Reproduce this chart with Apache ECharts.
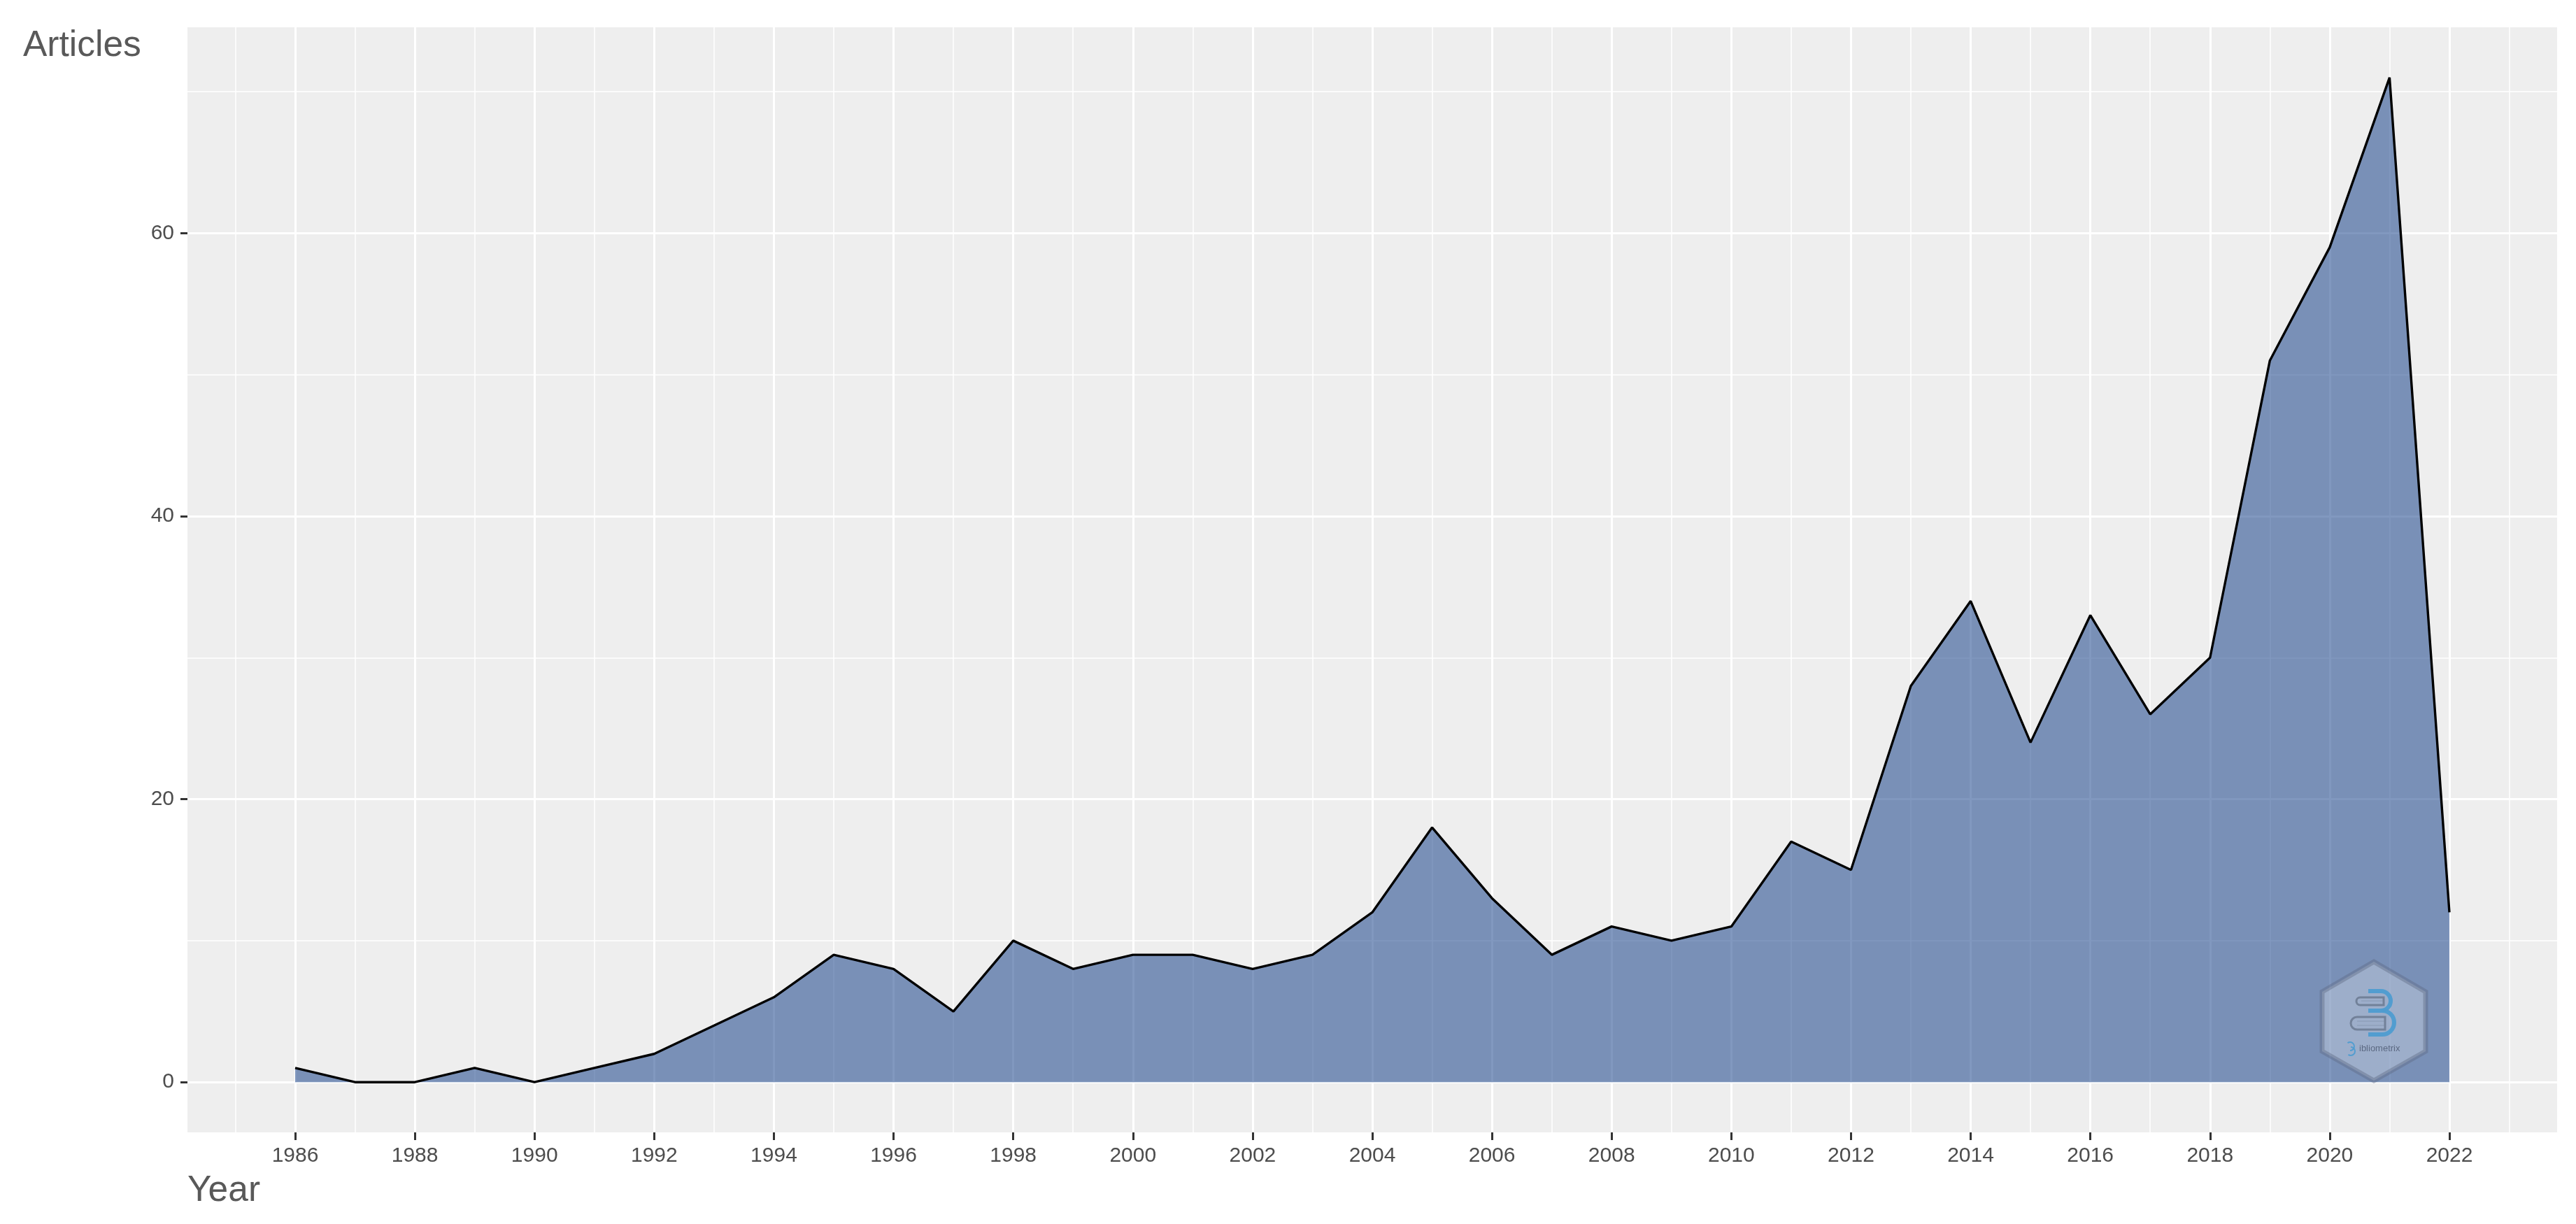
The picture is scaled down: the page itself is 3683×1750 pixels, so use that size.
<!DOCTYPE html>
<html>
<head>
<meta charset="utf-8">
<title>Articles per year</title>
<style>
  html, body { margin: 0; padding: 0; background: #fff; }
  #container { width: 3683px; height: 1750px; }
</style>
<script src="https://cdn.jsdelivr.net/npm/echarts@6/dist/echarts.min.js"></script>
</head>
<body>
<div id="container"></div>
<script>
const years = [1986, 1987, 1988, 1989, 1990, 1991, 1992, 1993, 1994, 1995, 1996, 1997, 1998,
  1999, 2000, 2001, 2002, 2003, 2004, 2005, 2006, 2007, 2008, 2009, 2010, 2011, 2012, 2013,
  2014, 2015, 2016, 2017, 2018, 2019, 2020, 2021, 2022];
const articles = [1, 0, 0, 1, 0, 1, 2, 4, 6, 9, 8, 5, 10, 8, 9, 9, 8, 9, 12, 18, 13, 9, 11, 10,
  11, 17, 15, 28, 34, 24, 33, 26, 30, 51, 59, 71, 12];

const xMajor = [1986, 1988, 1990, 1992, 1994, 1996, 1998, 2000, 2002, 2004, 2006, 2008, 2010,
  2012, 2014, 2016, 2018, 2020, 2022];
const xMinor = [1985, 1987, 1989, 1991, 1993, 1995, 1997, 1999, 2001, 2003, 2005, 2007, 2009,
  2011, 2013, 2015, 2017, 2019, 2021, 2023];
const yMajor = [0, 20, 40, 60];
const yMinor = [10, 30, 50, 70];

const FONT = '"Liberation Sans", Arial, sans-serif';
const LOGO_EDGE = 'rgba(92,106,130,0.42)';
const LOGO_BLUE = 'rgba(78,156,208,0.95)';
const BOOK = 'rgba(112,126,150,0.95)';
const BOOK_LINE = 'rgba(125,140,165,0.6)';

// the hexagon watermark sits on top of the plot, it is not data
const logo = [
  {type: 'polygon', shape: {points: [[3394, 1375], [3468, 1418], [3468, 1503], [3394, 1545], [3320, 1503], [3320, 1418]]},
    style: {fill: 'rgba(255,255,255,0.27)', stroke: LOGO_EDGE, lineWidth: 7}},
  {type: 'polyline', shape: {points: [[3386, 1417], [3404, 1417]]}, style: {stroke: LOGO_BLUE, lineWidth: 6, fill: null}},
  {type: 'arc', shape: {cx: 3404, cy: 1431, r: 14, startAngle: -Math.PI / 2, endAngle: Math.PI / 2, clockwise: true},
    style: {stroke: LOGO_BLUE, lineWidth: 6, fill: null}},
  {type: 'polyline', shape: {points: [[3386, 1445], [3405, 1445]]}, style: {stroke: LOGO_BLUE, lineWidth: 6, fill: null}},
  {type: 'arc', shape: {cx: 3406, cy: 1462, r: 17, startAngle: -Math.PI / 2, endAngle: Math.PI / 2, clockwise: true},
    style: {stroke: LOGO_BLUE, lineWidth: 6, fill: null}},
  {type: 'polyline', shape: {points: [[3386, 1479], [3406, 1479]]}, style: {stroke: LOGO_BLUE, lineWidth: 6, fill: null}},
  {type: 'rect', shape: {x: 3369, y: 1426, width: 39, height: 11, r: [6, 0, 0, 6]},
    style: {fill: null, stroke: BOOK, lineWidth: 3}},
  {type: 'polyline', shape: {points: [[3376, 1431], [3407, 1431]]}, style: {stroke: BOOK_LINE, lineWidth: 1, fill: null}},
  {type: 'rect', shape: {x: 3361, y: 1454, width: 49, height: 18, r: [9, 0, 0, 9]},
    style: {fill: null, stroke: BOOK, lineWidth: 3}},
  {type: 'polyline', shape: {points: [[3370, 1460], [3409, 1460]]}, style: {stroke: BOOK_LINE, lineWidth: 1, fill: null}},
  {type: 'polyline', shape: {points: [[3370, 1466], [3409, 1466]]}, style: {stroke: BOOK_LINE, lineWidth: 1, fill: null}},
  {type: 'arc', shape: {cx: 3360, cy: 1496, r: 6, startAngle: -Math.PI * 0.7, endAngle: Math.PI / 2, clockwise: true},
    style: {stroke: LOGO_BLUE, lineWidth: 2, fill: null}},
  {type: 'arc', shape: {cx: 3361, cy: 1503, r: 6, startAngle: -Math.PI / 2, endAngle: Math.PI * 0.7, clockwise: true},
    style: {stroke: LOGO_BLUE, lineWidth: 2, fill: null}},
  {type: 'text', x: 3373, y: 1493, style: {text: 'ibliometrix', fill: 'rgba(70,82,105,0.75)', font: '13px ' + FONT}}
].map(el => ({...el, z: 10}));

const myChart = echarts.init(document.getElementById('container'), null, {renderer: 'canvas'});

myChart.setOption({
  animation: false,
  backgroundColor: '#ffffff',
  textStyle: {fontFamily: FONT},
  title: [
    {text: 'Articles', left: 33, top: 40, padding: 0,
      textStyle: {fontFamily: FONT, fontSize: 51.5, fontWeight: 'normal', color: '#595959'}},
    {text: 'Year', left: 268, top: 1677, padding: 0,
      textStyle: {fontFamily: FONT, fontSize: 51.5, fontWeight: 'normal', color: '#595959'}}
  ],
  grid: {
    left: 268, right: 27, top: 39, bottom: 131,
    show: true, backgroundColor: '#EEEEEE', borderWidth: 0
  },
  xAxis: [
    {
      type: 'value', min: 1984.2, max: 2023.8,
      axisLine: {show: false, onZero: false},
      axisTick: {show: true, length: 11, customValues: xMajor, lineStyle: {color: '#333333', width: 3}},
      axisLabel: {show: true, customValues: xMajor, margin: 19, fontSize: 30, color: '#4D4D4D',
        fontFamily: FONT, formatter: v => String(v)},
      splitLine: {show: true, lineStyle: {color: '#ffffff', width: 3}}
    },
    {
      type: 'value', min: 1984.2, max: 2023.8,
      axisLine: {show: false, onZero: false},
      axisTick: {show: false, customValues: xMinor},
      axisLabel: {show: false},
      splitLine: {show: true, lineStyle: {color: '#ffffff', width: 1.5}}
    }
  ],
  yAxis: [
    {
      type: 'value', min: -3.55, max: 74.55,
      axisLine: {show: false},
      axisTick: {show: true, length: 10, customValues: yMajor, lineStyle: {color: '#333333', width: 3}},
      axisLabel: {show: true, customValues: yMajor, margin: 19, fontSize: 30, color: '#4D4D4D', padding: [7, 0, 0, 0],
        fontFamily: FONT, formatter: v => String(v)},
      splitLine: {show: true, lineStyle: {color: '#ffffff', width: 3}}
    },
    {
      type: 'value', min: -3.55, max: 74.55,
      axisLine: {show: false},
      axisTick: {show: false, customValues: yMinor},
      axisLabel: {show: false},
      splitLine: {show: true, lineStyle: {color: '#ffffff', width: 1.5}}
    }
  ],
  graphic: {elements: logo},
  series: [{
    type: 'line',
    xAxisIndex: 0,
    yAxisIndex: 0,
    data: years.map((y, i) => [y, articles[i]]),
    showSymbol: false,
    smooth: false,
    lineStyle: {color: '#000000', width: 3.4},
    areaStyle: {color: '#03317F', opacity: 0.5, origin: 'auto'}
  }]
});
</script>
</body>
</html>
